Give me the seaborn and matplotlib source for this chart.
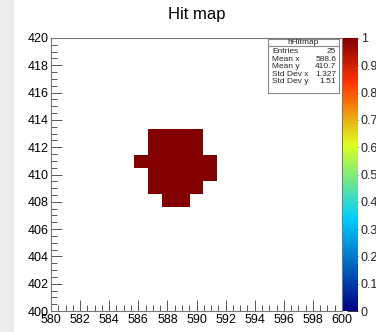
import matplotlib
matplotlib.use("Agg")
import matplotlib.pyplot as plt
from matplotlib.colors import LinearSegmentedColormap
from matplotlib.patches import Rectangle
from matplotlib.ticker import MultipleLocator
import seaborn as sns
import numpy as np

# ---- data (hits) ----
hit_x = [587, 588, 589, 590,
         587, 588, 589, 590,
         587, 588, 589, 590,
         587, 588, 589, 590,
         587, 588, 589, 590,
         586, 591, 591, 588, 589]
hit_y = [409, 409, 409, 409,
         410, 410, 410, 410,
         411, 411, 411, 411,
         412, 412, 412, 412,
         413, 413, 413, 413,
         411, 411, 410, 408, 408]
n_bins = 21
x_range = (580, 600)
y_range = (400, 420)
title = "Hit map"
stats_title = "hHitmap"
stats_labels = ["Entries", "Mean x", "Mean y", "Std Dev x", "Std Dev y"]
stats_values = ["25", "588.6", "410.7", "1.327", "1.51"]
x_ticks = list(range(580, 601, 2))
y_ticks = list(range(400, 421, 2))
z_ticks = [0, 0.1, 0.2, 0.3, 0.4, 0.5, 0.6, 0.7, 0.8, 0.9, 1]
z_labels = ["0", "0.1", "0.2", "0.3", "0.4", "0.5", "0.6", "0.7", "0.8", "0.9", "1"]

sns.set_theme(style="white")
plt.rcParams["font.family"] = ["Liberation Sans", "DejaVu Sans"]

# ROOT classic rainbow palette
stops = [0.0, 0.34, 0.61, 0.84, 1.0]
reds = [0.0, 0.0, 0.87, 1.0, 0.51]
greens = [0.0, 0.81, 1.0, 0.2, 0.0]
blues = [0.51, 1.0, 0.12, 0.0, 0.0]
cmap = LinearSegmentedColormap.from_list(
    "rootrainbow", [(s, (r, g, b)) for s, r, g, b in zip(stops, reds, greens, blues)])

W, H = 376, 332
fig = plt.figure(figsize=(W / 100, H / 100), dpi=100, facecolor="white")

# grey strip of the screenshot at the left
fig.patches.append(Rectangle((0, 0), 14 / W, 1, transform=fig.transFigure,
                             facecolor="#ececec", edgecolor="none", zorder=-10))

L, R, T, B = 51, 342, 38, 311
ax = fig.add_axes([L / W, 1 - B / H, (R - L) / W, (B - T) / H])
cax = fig.add_axes([343 / W, 1 - B / H, 15 / W, (B - T) / H])

sns.histplot(x=hit_x, y=hit_y, bins=n_bins, binrange=(x_range, y_range),
             cmap=cmap, vmin=0, vmax=1, cbar=True, cbar_ax=cax, ax=ax)

ax.set_xlim(*x_range)
ax.set_ylim(*y_range)
ax.set_xlabel("")
ax.set_ylabel("")
ax.set_facecolor("white")
ax.set_xticks(x_ticks)
ax.set_yticks(y_ticks)
ax.xaxis.set_minor_locator(MultipleLocator(0.5))
ax.yaxis.set_minor_locator(MultipleLocator(0.5))
ax.tick_params(axis="both", which="major", direction="in", length=8, width=0.7,
               color="#555555", labelsize=9, labelcolor="black",
               bottom=True, left=True, top=False, right=False)
ax.tick_params(axis="both", which="minor", direction="in", length=4, width=0.7,
               color="#555555", bottom=True, left=True, top=False, right=False)
ax.tick_params(axis="x", which="major", pad=2.5)
ax.tick_params(axis="y", which="major", pad=2)
for sp in ax.spines.values():
    sp.set_visible(True)
    sp.set_color("#777777")
    sp.set_linewidth(0.8)

# colour bar
cax.set_yticks(z_ticks)
cax.set_yticklabels(z_labels)
cax.tick_params(axis="y", direction="in", length=8, width=0.7, color="#333333",
                labelsize=9, pad=2, right=True, left=False)
for sp in cax.spines.values():
    sp.set_visible(False)

fig.text((L + R) / 2 / W, 1 - 15 / H, title, ha="center", va="center",
         fontsize=12, color="black")

# stats box
bx0, bx1, by0, by1 = 268, 339, 39, 93
ax_box = fig.add_axes([bx0 / W, 1 - by1 / H, (bx1 - bx0) / W, (by1 - by0) / H])
ax_box.set_xlim(0, 1)
ax_box.set_ylim(0, 1)
ax_box.set_xticks([])
ax_box.set_yticks([])
ax_box.set_facecolor("white")
for sp in ax_box.spines.values():
    sp.set_color("#888888")
    sp.set_linewidth(0.8)
hbox = by1 - by0
ax_box.axhline(1 - 7 / hbox, color="#888888", lw=0.8)
ax_box.text(0.5, 1 - 3.6 / hbox, stats_title, ha="center", va="center", fontsize=6)
for k, (lab, val) in enumerate(zip(stats_labels, stats_values)):
    yy = 1 - (12.5 + 7.6 * k) / hbox
    ax_box.text(0.06, yy, lab, ha="left", va="center", fontsize=6)
    ax_box.text(0.96, yy, val, ha="right", va="center", fontsize=6)

fig.savefig("out.png", dpi=100, facecolor="white")
